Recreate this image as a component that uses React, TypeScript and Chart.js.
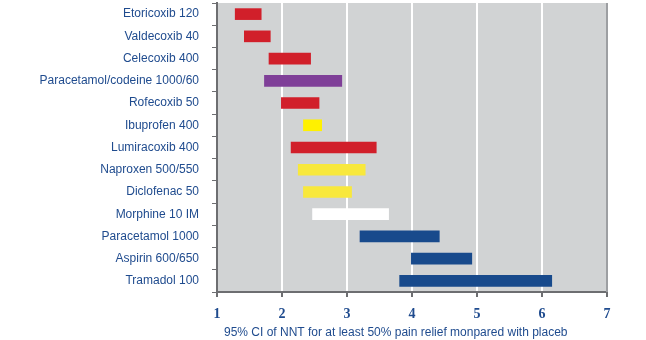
import React, { useEffect, useRef } from "react";
import { Chart, registerables } from "chart.js";

Chart.register(...registerables);

const labels = [
  "Etoricoxib 120",
  "Valdecoxib 40",
  "Celecoxib 400",
  "Paracetamol/codeine 1000/60",
  "Rofecoxib 50",
  "Ibuprofen 400",
  "Lumiracoxib 400",
  "Naproxen 500/550",
  "Diclofenac 50",
  "Morphine 10 IM",
  "Paracetamol 1000",
  "Aspirin 600/650",
  "Tramadol 100",
];
const lowCI = [1.28, 1.42, 1.8, 1.73, 1.99, 2.33, 2.14, 2.25, 2.33, 2.47, 3.2, 3.99, 3.81];
const highCI = [1.68, 1.82, 2.44, 2.92, 2.57, 2.61, 3.45, 3.28, 3.07, 3.64, 4.42, 4.92, 6.15];
const barColors = [
  "#d11f2a", "#d11f2a", "#d11f2a", "#7f3f98", "#d11f2a", "#fff100", "#d11f2a",
  "#f8e83c", "#f8e83c", "#ffffff", "#184a8c", "#184a8c", "#184a8c",
];
const xTicks = [1, 2, 3, 4, 5, 6, 7];
const xTitle = "95% CI of NNT for at least 50% pain relief monpared with placeb";

const TEXT = "#1f4b8e";

const bgPlugin = {
  id: "bgPlugin",
  beforeDraw(chart: any) {
    const { ctx, chartArea } = chart;
    ctx.save();
    ctx.fillStyle = "#d1d3d4";
    ctx.fillRect(chartArea.left, chartArea.top, chartArea.right - chartArea.left, chartArea.bottom - chartArea.top);
    ctx.restore();
  },
  afterDraw(chart: any) {
    const { ctx, chartArea } = chart;
    ctx.save();
    ctx.strokeStyle = "#9d9fa2";
    ctx.lineWidth = 2;
    ctx.beginPath();
    ctx.moveTo(chartArea.right, chartArea.top);
    ctx.lineTo(chartArea.right, chartArea.bottom);
    ctx.stroke();
    // axis title, drawn slightly left of centre as in the original
    ctx.fillStyle = TEXT;
    ctx.font = "12px 'Liberation Sans', Arial, sans-serif";
    ctx.textAlign = "left";
    ctx.textBaseline = "middle";
    ctx.fillText(xTitle, chartArea.left + 7, chart.height - 7);
    ctx.restore();
  },
};

export default function App() {
  const ref = useRef<HTMLCanvasElement>(null);
  useEffect(() => {
    if (!ref.current) return;
    const chart = new Chart(ref.current, {
      type: "bar",
      data: {
        labels,
        datasets: [
          {
            data: lowCI.map((l, i) => [l, highCI[i]]) as any,
            backgroundColor: barColors,
            borderWidth: 0,
            barThickness: 11,
          },
        ],
      },
      options: {
        indexAxis: "y",
        animation: false,
        responsive: true,
        maintainAspectRatio: false,
        layout: { padding: { left: 0, right: 39, top: 3, bottom: 0 } },
        plugins: { legend: { display: false }, tooltip: { enabled: false } },
        scales: {
          x: {
            type: "linear",
            min: 1,
            max: 7,
            afterBuildTicks: (s: any) => {
              s.ticks = xTicks.map((v) => ({ value: v }));
            },
            afterFit: (s: any) => {
              s.height = 48;
              s.paddingLeft = 0;
              s.paddingRight = 0;
            },
            grid: {
              color: (c: any) => (c.tick && (c.tick.value === 1 || c.tick.value === 7) ? "rgba(0,0,0,0)" : "#ffffff"),
              lineWidth: 2,
              tickColor: "#6d6e71",
              tickLength: 5,
              drawTicks: true,
            },
            border: { color: "#6d6e71", width: 2 },
            ticks: {
              color: TEXT,
              padding: 9,
              font: { family: "'Liberation Serif', 'DejaVu Serif', serif", size: 14, weight: "bold" },
              callback: (v: any) => String(v),
            },
            title: { display: false },
          },
          y: {
            type: "category",
            afterFit: (s: any) => {
              s.width = 217;
              s.paddingTop = 0;
              s.paddingBottom = 0;
            },
            grid: {
              offset: true,
              drawOnChartArea: false,
              drawTicks: true,
              tickLength: 5,
              tickColor: "#6d6e71",
            },
            border: { color: "#6d6e71", width: 2 },
            ticks: {
              color: TEXT,
              padding: 13,
              font: { family: "'Liberation Sans', Arial, sans-serif", size: 12 },
            },
          },
        },
      },
      plugins: [bgPlugin],
    } as any);
    return () => chart.destroy();
  }, []);
  return (
    <div style={{ position: "fixed", left: 0, top: 0, width: 646, height: 340, background: "#ffffff" }}>
      <canvas ref={ref} />
    </div>
  );
}
